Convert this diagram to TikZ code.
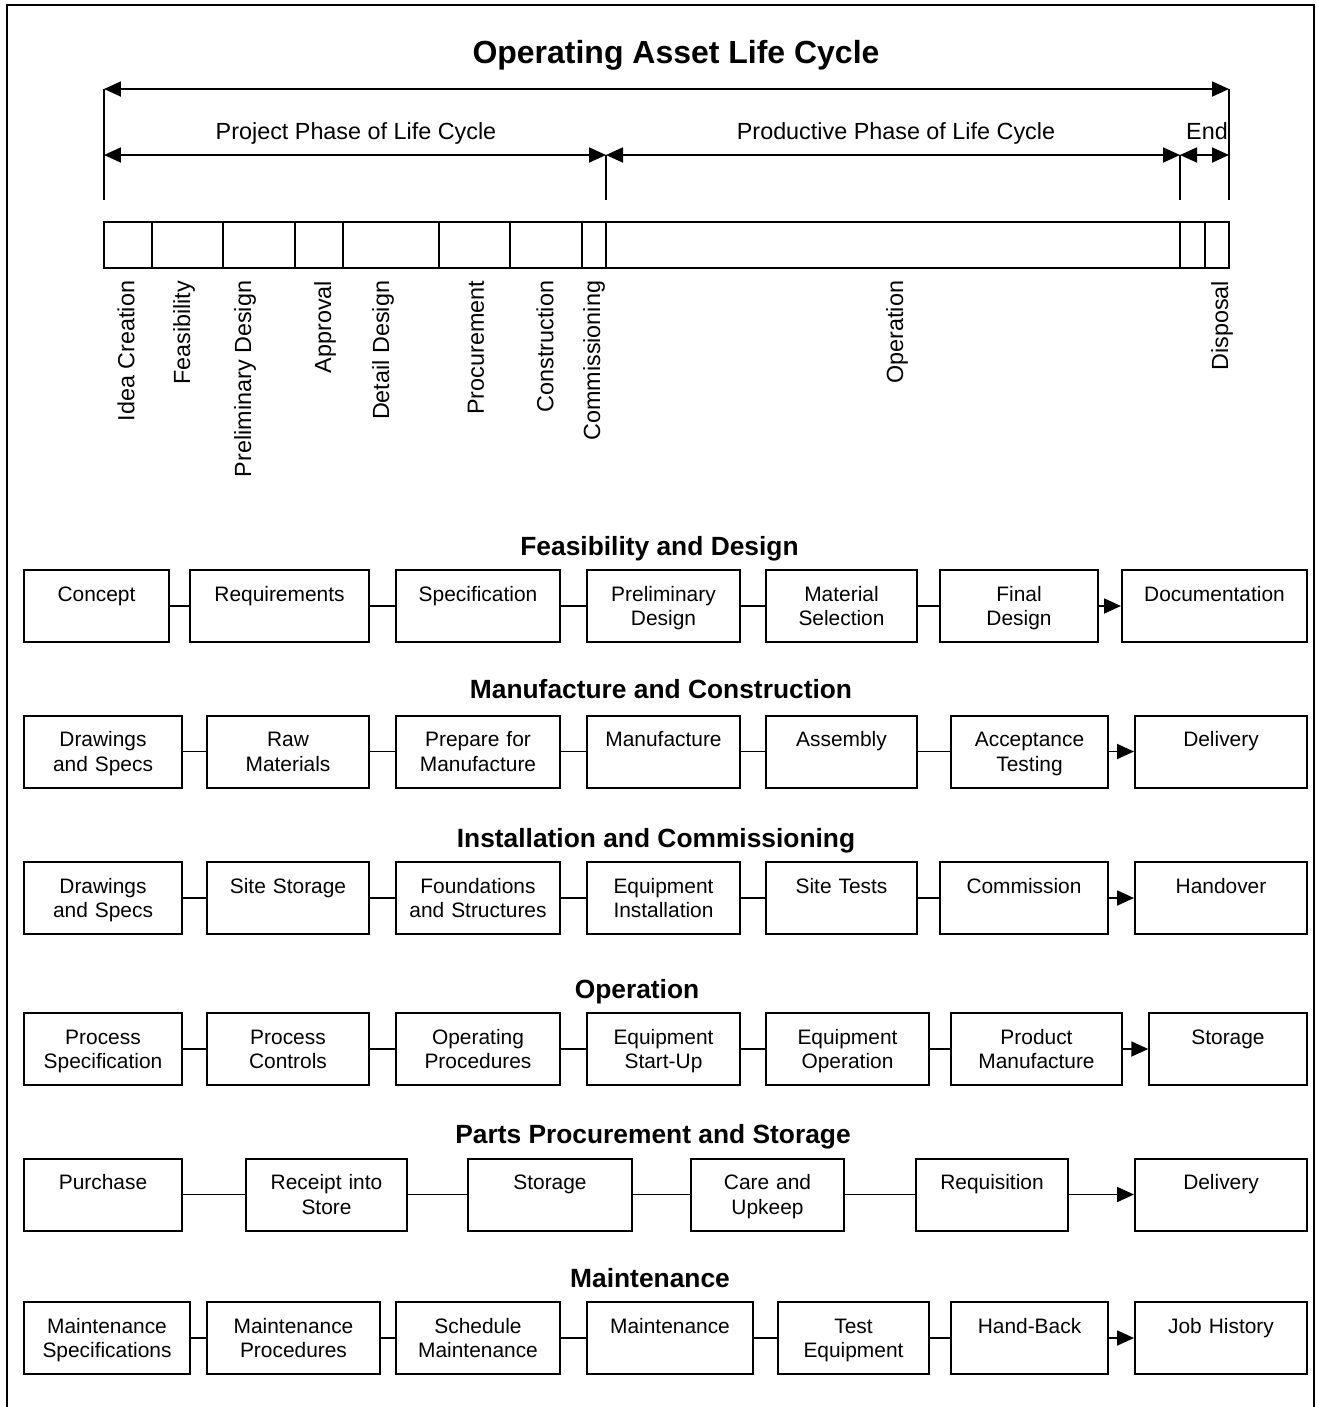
\documentclass[tikz,border=0pt]{standalone}
\usepackage{fontspec}
\setmainfont{Liberation Sans}
\usetikzlibrary{arrows.meta}
\newdimen\pxu
\pxu=0.02cm
\newcommand{\stagefont}{\fontsize{11.9}{14.2}\selectfont}
\newcommand{\labelfont}{\fontsize{13.3}{16}\selectfont}
\newcommand{\headfont}{\fontsize{15}{18}\selectfont\bfseries}
\newcommand{\titlefont}{\fontsize{18.2}{22}\selectfont\bfseries}
\begin{document}
\begin{tikzpicture}[x=0.02cm, y=-0.02cm, >={Triangle[length=0.34cm, width=0.3cm]}, line width=1.05pt]
  \useasboundingbox (0,0) rectangle (1318,1407);
  \tikzset{stage/.style={draw, line width=1.15pt, inner sep=0pt, align=center, font=\stagefont, text height=31\pxu, text depth=41\pxu},
    steplabel/.style={rotate=90, anchor=east, inner sep=0pt, font=\labelfont},
    phase/.style={anchor=base, inner sep=0pt, font=\labelfont},
    head/.style={anchor=base, inner sep=0pt, font=\headfont}}
  \draw[line width=1.2pt] (7,1412) -- (7,5) -- (1314,5) -- (1314,1412);
  \node[anchor=base, inner sep=0pt, font=\titlefont] (title) at (676,63) {Operating Asset Life Cycle};
  \coordinate (L) at (104,89);
  \coordinate (R) at (1229,89);
  \coordinate (a0) at (104,155);
  \coordinate (a1) at (606,155);
  \coordinate (a2) at (1180,155);
  \coordinate (a3) at (1229,155);
  \draw[<->] (L) -- (R);
  \draw[<->] (a0) -- (a1);
  \draw[<->] (a1) -- (a2);
  \draw[<->] (a2) -- (a3);
  \draw (L) -- ++(0,111);
  \draw (R) -- ++(0,111);
  \draw (a1) -- ++(0,45);
  \draw (a2) -- ++(0,45);
  \node[phase] (proj) at (356,139) {Project Phase of Life Cycle};
  \node[phase] (prod) at (896,139) {Productive Phase of Life Cycle};
  \node[phase] (end) at (1207,139) {End};
  \draw[line width=0.9pt] (104,222) rectangle (1229,268);
  \foreach \x in {152,223,295,343,439,510,582,606,1180,1205}
    \draw[line width=0.6pt] (\x,222) -- (\x,268);
  \node[steplabel] (idea) at (126,280) {Idea Creation};
  \node[steplabel] (feas) at (184,280) {Feasibility};
  \node[steplabel] (prel) at (245,280) {Preliminary Design};
  \node[steplabel] (appr) at (325,280) {Approval};
  \node[steplabel] (detl) at (383,280) {Detail Design};
  \node[steplabel] (proc) at (476,280) {Procurement};
  \node[steplabel] (cons) at (545,280) {Construction};
  \node[steplabel] (comm) at (594,280) {Commissioning};
  \node[steplabel] (oper) at (897,280) {Operation};
  \node[steplabel] (disp) at (1222,280) {Disposal};

  \node[head] (fdhead) at (659.5,555) {Feasibility and Design};
  \node[stage, text width=145\pxu] (fd1) at (96.5,606) {Concept};
  \node[stage, text width=179\pxu] (fd2) at (279.5,606) {Requirements};
  \node[stage, text width=164\pxu] (fd3) at (478,606) {Specification};
  \node[stage, text width=153\pxu] (fd4) at (663.5,606) {Preliminary\\Design};
  \node[stage, text width=151\pxu] (fd5) at (841.5,606) {Material\\Selection};
  \node[stage, text width=158\pxu] (fd6) at (1019,606) {Final\\Design};
  \node[stage, text width=185\pxu] (fd7) at (1214.5,606) {Documentation};
  \draw (fd1) -- (fd2) (fd2) -- (fd3) (fd3) -- (fd4) (fd4) -- (fd5) (fd5) -- (fd6);
  \draw[->] (fd6) -- (fd7);

  \node[head] (mchead) at (661,698) {Manufacture and Construction};
  \node[stage, text width=158\pxu] (mc1) at (103,751.5) {Drawings\\and Specs};
  \node[stage, text width=161.5\pxu] (mc2) at (288,751.5) {Raw\\Materials};
  \node[stage, text width=164\pxu] (mc3) at (478,751.5) {Prepare for\\Manufacture};
  \node[stage, text width=153\pxu] (mc4) at (663.5,751.5) {Manufacture};
  \node[stage, text width=151\pxu] (mc5) at (841.5,751.5) {Assembly};
  \node[stage, text width=157\pxu] (mc6) at (1029.5,751.5) {Acceptance\\Testing};
  \node[stage, text width=172\pxu] (mc7) at (1221,751.5) {Delivery};
  \draw (mc1) -- (mc2) (mc2) -- (mc3) (mc3) -- (mc4) (mc4) -- (mc5) (mc5) -- (mc6);
  \draw[->] (mc6) -- (mc7);

  \node[head] (ichead) at (656,847) {Installation and Commissioning};
  \node[stage, text width=158\pxu] (ic1) at (103,898) {Drawings\\and Specs};
  \node[stage, text width=161.5\pxu] (ic2) at (288,898) {Site Storage};
  \node[stage, text width=164\pxu] (ic3) at (478,898) {Foundations\\and Structures};
  \node[stage, text width=153\pxu] (ic4) at (663.5,898) {Equipment\\Installation};
  \node[stage, text width=151\pxu] (ic5) at (841.5,898) {Site Tests};
  \node[stage, text width=167.5\pxu] (ic6) at (1024,898) {Commission};
  \node[stage, text width=172\pxu] (ic7) at (1221,898) {Handover};
  \draw (ic1) -- (ic2) (ic2) -- (ic3) (ic3) -- (ic4) (ic4) -- (ic5) (ic5) -- (ic6);
  \draw[->] (ic6) -- (ic7);

  \node[head] (ophead) at (637,998) {Operation};
  \node[stage, text width=158\pxu] (op1) at (103,1049) {Process\\Specification};
  \node[stage, text width=161.5\pxu] (op2) at (288,1049) {Process\\Controls};
  \node[stage, text width=164\pxu] (op3) at (478,1049) {Operating\\Procedures};
  \node[stage, text width=153\pxu] (op4) at (663.5,1049) {Equipment\\Start-Up};
  \node[stage, text width=163\pxu] (op5) at (847.5,1049) {Equipment\\Operation};
  \node[stage, text width=171\pxu] (op6) at (1036.5,1049) {Product\\Manufacture};
  \node[stage, text width=157.5\pxu] (op7) at (1228,1049) {Storage};
  \draw (op1) -- (op2) (op2) -- (op3) (op3) -- (op4) (op4) -- (op5) (op5) -- (op6);
  \draw[->] (op6) -- (op7);

  \node[head] (pphead) at (653,1143) {Parts Procurement and Storage};
  \node[stage, text width=158\pxu] (pp1) at (103,1194.5) {Purchase};
  \node[stage, text width=161\pxu] (pp2) at (326.5,1194.5) {Receipt into\\Store};
  \node[stage, text width=164\pxu] (pp3) at (550,1194.5) {Storage};
  \node[stage, text width=153.5\pxu] (pp4) at (767.5,1194.5) {Care and\\Upkeep};
  \node[stage, text width=151.5\pxu] (pp5) at (992,1194.5) {Requisition};
  \node[stage, text width=172\pxu] (pp6) at (1221,1194.5) {Delivery};
  \draw (pp1) -- (pp2) (pp2) -- (pp3) (pp3) -- (pp4) (pp4) -- (pp5);
  \draw[->] (pp5) -- (pp6);

  \node[head] (mthead) at (650,1287) {Maintenance};
  \node[stage, text width=166\pxu] (mt1) at (107,1338) {Maintenance\\Specifications};
  \node[stage, text width=173\pxu] (mt2) at (293.5,1338) {Maintenance\\Procedures};
  \node[stage, text width=164\pxu] (mt3) at (478,1338) {Schedule\\Maintenance};
  \node[stage, text width=166\pxu] (mt4) at (670,1338) {Maintenance};
  \node[stage, text width=151\pxu] (mt5) at (853.5,1338) {Test\\Equipment};
  \node[stage, text width=157\pxu] (mt6) at (1029.5,1338) {Hand-Back};
  \node[stage, text width=172\pxu] (mt7) at (1221,1338) {Job History};
  \draw (mt1) -- (mt2) (mt2) -- (mt3) (mt3) -- (mt4) (mt4) -- (mt5) (mt5) -- (mt6);
  \draw[->] (mt6) -- (mt7);
\end{tikzpicture}
\end{document}
